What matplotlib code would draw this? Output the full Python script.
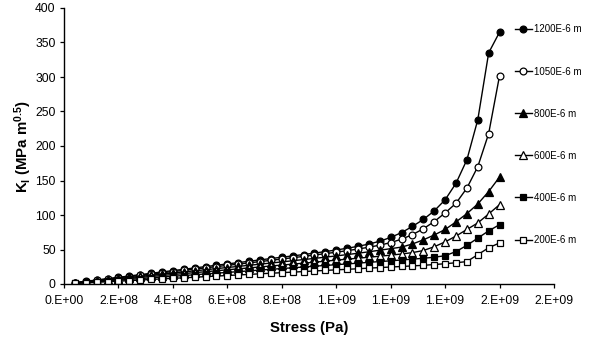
import matplotlib
matplotlib.use("Agg")
import matplotlib.pyplot as plt

plt.rcParams['font.family'] = ['Liberation Sans', 'DejaVu Sans']
plt.rcParams['mathtext.fontset'] = 'custom'
plt.rcParams['mathtext.bf'] = 'Liberation Sans:bold'
plt.rcParams['mathtext.rm'] = 'Liberation Sans:bold'
plt.rcParams['mathtext.default'] = 'bf'

# Stress (Pa) in units of 1e8 Pa
stress_e8 = [0.4, 0.8, 1.2, 1.6, 2.0, 2.4, 2.8, 3.2, 3.6, 4.0,
             4.4, 4.8, 5.2, 5.6, 6.0, 6.4, 6.8, 7.2, 7.6, 8.0,
             8.4, 8.8, 9.2, 9.6, 10.0, 10.4, 10.8, 11.2, 11.6, 12.0,
             12.4, 12.8, 13.2, 13.6, 14.0, 14.4, 14.8, 15.2, 15.6, 16.0]

k_1200 = [1.9, 3.9, 5.8, 7.8, 9.7, 11.6, 13.6, 15.5, 17.5, 19.4,
          21.3, 23.3, 25.2, 27.2, 29.1, 31.0, 33.0, 34.9, 36.9, 38.8,
          40.7, 42.7, 44.8, 47.0, 49.3, 51.8, 54.6, 57.9, 62.0, 67.5,
          74.5, 83.5, 93.5, 106.0, 122.0, 146.0, 180.0, 238.0, 335.0, 365.0]
k_1050 = [1.8, 3.6, 5.4, 7.2, 9.0, 10.8, 12.6, 14.4, 16.2, 18.0,
          19.8, 21.6, 23.4, 25.2, 27.0, 28.8, 30.6, 32.5, 34.3, 36.2,
          38.1, 40.0, 42.0, 44.0, 46.1, 48.3, 50.7, 53.3, 56.3, 60.0,
          65.0, 71.5, 80.0, 90.5, 103.0, 117.0, 139.0, 170.0, 218.0, 302.0]
k_800 = [1.6, 3.2, 4.8, 6.3, 7.9, 9.5, 11.1, 12.7, 14.3, 15.9,
         17.5, 19.1, 20.7, 22.3, 23.9, 25.5, 27.1, 28.7, 30.4, 32.0,
         33.7, 35.4, 37.1, 38.9, 40.7, 42.6, 44.6, 46.7, 49.0, 51.2,
         53.5, 58.0, 64.0, 71.0, 79.0, 90.0, 102.0, 116.0, 134.0, 155.0]
k_600 = [1.4, 2.7, 4.1, 5.5, 6.9, 8.2, 9.6, 11.0, 12.3, 13.7,
         15.1, 16.5, 17.8, 19.2, 20.6, 22.0, 23.3, 24.7, 26.1, 27.4,
         28.8, 30.2, 31.6, 33.1, 34.6, 36.0, 37.4, 38.8, 40.3, 41.8,
         43.5, 45.5, 48.5, 54.0, 61.0, 69.5, 79.0, 88.5, 101.5, 115.0]
k_400 = [1.1, 2.2, 3.4, 4.5, 5.6, 6.7, 7.8, 9.0, 10.1, 11.2,
         12.3, 13.4, 14.6, 15.7, 16.8, 17.9, 19.0, 20.2, 21.3, 22.4,
         23.5, 24.6, 25.8, 26.9, 28.0, 29.1, 30.2, 31.4, 32.5, 33.6,
         34.8, 36.0, 37.3, 38.8, 41.0, 47.0, 56.0, 66.5, 77.0, 86.0]
k_200 = [0.8, 1.6, 2.5, 3.3, 4.1, 4.9, 5.7, 6.6, 7.4, 8.2,
         9.0, 9.8, 10.7, 11.5, 12.3, 13.1, 13.9, 14.8, 15.6, 16.4,
         17.2, 18.0, 18.9, 19.7, 20.5, 21.3, 22.1, 23.0, 23.8, 24.6,
         25.4, 26.2, 27.1, 28.2, 29.4, 30.8, 32.5, 42.5, 52.5, 59.5]

series_labels = ['1200E-6 m', '1050E-6 m', '800E-6 m', '600E-6 m', '400E-6 m', '200E-6 m']
x_ticks_e8 = [0, 2, 4, 6, 8, 10, 12, 14, 16, 18]
x_tick_labels = ['0.E+00', '2.E+08', '4.E+08', '6.E+08', '8.E+08',
                 '1.E+09', '1.E+09', '1.E+09', '2.E+09', '2.E+09']
y_ticks = [0, 50, 100, 150, 200, 250, 300, 350, 400]

W, H = 591, 344
fig = plt.figure(figsize=(W / 100, H / 100), dpi=100)
ax = fig.add_axes([64 / W, (H - 284) / H, (554 - 64) / W, (284 - 8) / H])

x = [v * 1e8 for v in stress_e8]
styles = [
    (k_1200, 'o', 'black', 4.9),
    (k_1050, 'o', 'white', 4.9),
    (k_800, '^', 'black', 5.1),
    (k_600, '^', 'white', 5.1),
    (k_400, 's', 'black', 4.5),
    (k_200, 's', 'white', 4.5),
]
handles = []
for (vals, mk, fc, ms), lab in zip(styles, series_labels):
    h, = ax.plot(x, vals, color='black', lw=1.0, marker=mk, markersize=ms,
                 markerfacecolor=fc, markeredgecolor='black', markeredgewidth=0.9,
                 label=lab)
    handles.append(h)

ax.set_xlim(0, 1.8e9)
ax.set_ylim(0, 400)
ax.set_xticks([v * 1e8 for v in x_ticks_e8])
ax.set_xticklabels(x_tick_labels)
ax.set_yticks(y_ticks)
for s in ['top', 'right']:
    ax.spines[s].set_visible(False)
for s in ['left', 'bottom']:
    ax.spines[s].set_linewidth(1.0)
ax.tick_params(axis='both', direction='out', length=3, width=0.9, labelsize=8.7, pad=3)
ax.tick_params(axis='x', pad=5)

ax.set_xlabel('Stress (Pa)', fontsize=10.8, fontweight='bold', labelpad=10)
ax.set_ylabel(r'K$_{I}$ (MPa m$^{0.5}$)', fontsize=10.8, fontweight='bold', labelpad=1)

leg = fig.legend(handles=handles, loc='upper left', bbox_to_anchor=(515 / W, 1 - 24.5 / H),
                 frameon=False, fontsize=7.0, handlelength=1.7, handletextpad=0.3,
                 labelspacing=3.3, borderpad=0, borderaxespad=0)

fig.savefig('out.png', dpi=100)
